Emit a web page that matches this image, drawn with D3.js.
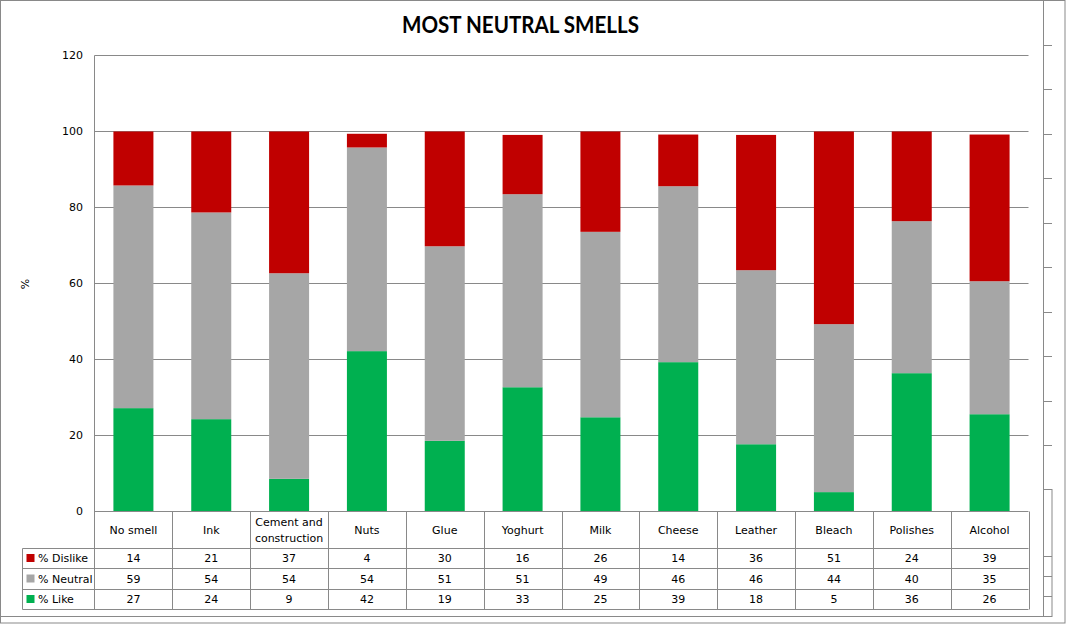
<!DOCTYPE html>
<html>
<head>
<meta charset="utf-8">
<script src="https://cdn.jsdelivr.net/npm/d3@7"></script>
<style>
  html, body { margin: 0; padding: 0; background: #fff; }
  svg { display: block; }
</style>
</head>
<body>
<svg id="chart" width="1066" height="624"></svg>
<script>
// ---- data ----
const categories = ["No smell", "Ink", "Cement and construction", "Nuts", "Glue", "Yoghurt",
                    "Milk", "Cheese", "Leather", "Bleach", "Polishes", "Alcohol"];
const like    = [27.2, 24.3, 8.6, 42.2, 18.6, 32.7, 24.8, 39.3, 17.7, 5.1, 36.4, 25.6];
const neutral = [58.6, 54.4, 54.1, 53.6, 51.2, 50.8, 48.8, 46.3, 45.8, 44.2, 40.0, 35.0];
const dislike = [14.2, 21.3, 37.3, 3.6, 30.2, 15.6, 26.4, 13.6, 35.6, 50.7, 23.6, 38.6];
const seriesNames = ["% Like", "% Neutral", "% Dislike"];
const yTicks = [0, 20, 40, 60, 80, 100, 120];
const title = "MOST NEUTRAL SMELLS";

// ---- styles ----
const colors = { "% Like": "#00B050", "% Neutral": "#A6A6A6", "% Dislike": "#C00000" };
const lineColor = "#898989";
const font = "'DejaVu Sans', Verdana, sans-serif";

const svg = d3.select("#chart");

// outer frames (as in the reference screenshot)
svg.append("rect").attr("x", 0.5).attr("y", 0.5).attr("width", 1064.5).attr("height", 622.5)
  .attr("fill", "none").attr("stroke", lineColor);
svg.append("rect").attr("x", 0.5).attr("y", 0.5).attr("width", 1043).attr("height", 616)
  .attr("fill", "#fff").attr("stroke", lineColor);
// right-side stub ticks
const stubG = svg.append("g").attr("stroke", lineColor).attr("fill", "none");
d3.range(10).forEach(i => {
  const yy = Math.round(45 + i * 44.44) + 0.5;
  stubG.append("line").attr("x1", 1043.5).attr("x2", 1052).attr("y1", yy).attr("y2", yy);
});
stubG.append("rect").attr("x", 1043.5).attr("y", 489.5).attr("width", 8.5).attr("height", 127);
[556.5, 576.5, 596.5].forEach(yy =>
  stubG.append("line").attr("x1", 1043.5).attr("x2", 1052).attr("y1", yy).attr("y2", yy));

// ---- scales ----
const left = 94.5, right = 1028.5;
const y = d3.scaleLinear().domain([0, 120]).range([511.5, 55.5]);
const xCol = d3.scaleBand().domain(categories).range([left, right]).padding(0);
const xBar = d3.scaleBand().domain(categories).range([left, right])
  .paddingInner(0.486).paddingOuter(0.243);

// title
svg.append("text").attr("x", 520.5).attr("y", 33)
  .attr("text-anchor", "middle")
  .attr("font-family", "Lato, 'Open Sans', sans-serif").attr("font-weight", "bold")
  .attr("font-size", 22).attr("textLength", 237).attr("lengthAdjust", "spacingAndGlyphs")
  .attr("fill", "#000").text(title);

// gridlines
svg.append("g").selectAll("line").data(yTicks.filter(t => t > 0)).join("line")
  .attr("x1", left).attr("x2", right)
  .attr("y1", d => y(d)).attr("y2", d => y(d))
  .attr("stroke", lineColor).attr("stroke-width", 1);

// y axis labels
svg.append("g").selectAll("text").data(yTicks).join("text")
  .attr("x", 83).attr("y", d => y(d)).attr("dy", "0.35em")
  .attr("text-anchor", "end").attr("font-family", font).attr("font-size", 11)
  .attr("fill", "#000").text(d => d);

// y title
svg.append("text").attr("transform", "translate(29,284) rotate(-90)")
  .attr("text-anchor", "middle").attr("font-family", font).attr("font-size", 11)
  .text("%");

// ---- stacked bars ----
const rows = categories.map((c, i) => ({ cat: c, "% Like": like[i], "% Neutral": neutral[i], "% Dislike": dislike[i] }));
const stack = d3.stack().keys(seriesNames)(rows);
svg.append("g").selectAll("g").data(stack).join("g")
  .attr("fill", d => colors[d.key])
  .selectAll("rect").data(d => d).join("rect")
  .attr("x", d => xBar(d.data.cat))
  .attr("width", xBar.bandwidth())
  .attr("y", d => y(d[1]))
  .attr("height", d => y(d[0]) - y(d[1]));

// ---- data table ----
const rowTops = [511.5, 548.5, 568.5, 589.5, 609.5];
const tableLeft = 22.5;
const tg = svg.append("g").attr("stroke", lineColor).attr("stroke-width", 1).attr("fill", "none");
// horizontal lines
tg.append("line").attr("x1", left).attr("x2", right).attr("y1", rowTops[0]).attr("y2", rowTops[0]);
rowTops.slice(1).forEach(r =>
  tg.append("line").attr("x1", tableLeft).attr("x2", right).attr("y1", r).attr("y2", r));
// vertical lines
tg.append("line").attr("x1", left).attr("x2", left).attr("y1", y(120)).attr("y2", rowTops[4]);
tg.append("line").attr("x1", tableLeft).attr("x2", tableLeft).attr("y1", rowTops[1]).attr("y2", rowTops[4]);
categories.forEach(c => {
  const xx = Math.round(xCol(c) + xCol.bandwidth()) + 0.5;
  tg.append("line").attr("x1", xx).attr("x2", xx).attr("y1", rowTops[0]).attr("y2", rowTops[4]);
});

// category labels
const catG = svg.append("g").attr("font-family", font).attr("font-size", 11).attr("fill", "#000")
  .attr("text-anchor", "middle");
categories.forEach(c => {
  const cx = xCol(c) + xCol.bandwidth() / 2;
  const t = catG.append("text").attr("x", cx);
  if (c === "Cement and construction") {
    t.append("tspan").attr("x", cx).attr("y", 526).text("Cement and");
    t.append("tspan").attr("x", cx).attr("y", 542).text("construction");
  } else {
    t.attr("y", 534).text(c);
  }
});

// series rows (top to bottom: Dislike, Neutral, Like)
const tableSeries = [["% Dislike", dislike], ["% Neutral", neutral], ["% Like", like]];
tableSeries.forEach(([name, vals], r) => {
  const cy = (rowTops[r + 1] + rowTops[r + 2]) / 2;
  svg.append("rect").attr("x", 26.5).attr("y", cy - 4.5).attr("width", 8).attr("height", 8)
    .attr("fill", colors[name]);
  svg.append("text").attr("x", 38).attr("y", cy).attr("dy", "0.35em")
    .attr("font-family", font).attr("font-size", 11).text(name);
  svg.append("g").selectAll("text").data(vals).join("text")
    .attr("x", (d, i) => xCol(categories[i]) + xCol.bandwidth() / 2)
    .attr("y", cy).attr("dy", "0.35em").attr("text-anchor", "middle")
    .attr("font-family", font).attr("font-size", 11)
    .text(d => Math.round(d));
});
</script>
</body>
</html>
